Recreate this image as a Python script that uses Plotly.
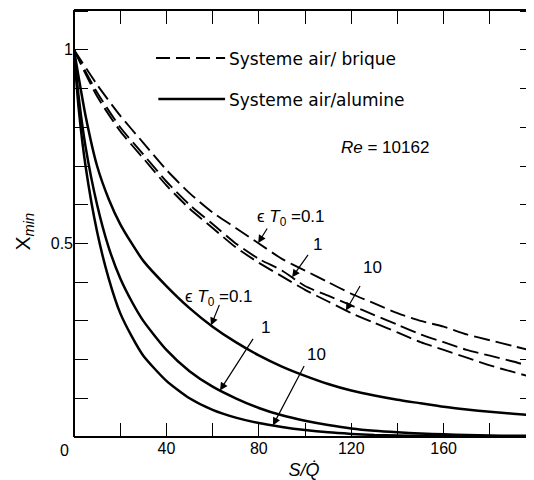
import numpy as np
import plotly.graph_objects as go

# ---------------- data ----------------
x_brique = [0, 10, 20, 30, 40, 50, 60, 70, 80, 90, 100, 110, 120, 130, 140, 150, 160, 170, 180, 190, 200]
brique_01 = [1.0, 0.91, 0.83, 0.76, 0.69, 0.63, 0.58, 0.54, 0.50, 0.46, 0.43, 0.40, 0.37, 0.345, 0.32, 0.30, 0.285, 0.265, 0.25, 0.235, 0.22]
brique_1 = [1.0, 0.89, 0.80, 0.73, 0.66, 0.60, 0.55, 0.50, 0.46, 0.43, 0.39, 0.365, 0.34, 0.315, 0.29, 0.265, 0.245, 0.225, 0.21, 0.195, 0.178]
brique_10 = [1.0, 0.88, 0.79, 0.72, 0.65, 0.59, 0.54, 0.49, 0.45, 0.415, 0.38, 0.35, 0.32, 0.295, 0.27, 0.245, 0.225, 0.205, 0.185, 0.168, 0.152]

x_alumine = [0, 2, 5, 10, 15, 20, 25, 30, 40, 50, 60, 70, 80, 90, 100, 110, 120, 130, 140, 150, 160, 170, 180, 190, 200]
alumine_01 = [1.0, 0.93, 0.83, 0.70, 0.615, 0.55, 0.50, 0.455, 0.39, 0.333, 0.285, 0.245, 0.211, 0.182, 0.158, 0.137, 0.12, 0.107, 0.096, 0.087, 0.078, 0.071, 0.065, 0.06, 0.055]
alumine_1 = [1.0, 0.88, 0.75, 0.60, 0.49, 0.41, 0.35, 0.30, 0.225, 0.17, 0.13, 0.10, 0.075, 0.056, 0.042, 0.031, 0.022, 0.016, 0.012, 0.009, 0.007, 0.005, 0.004, 0.003, 0.003]
alumine_10 = [1.0, 0.85, 0.70, 0.53, 0.41, 0.32, 0.26, 0.21, 0.145, 0.10, 0.07, 0.05, 0.036, 0.026, 0.018, 0.012, 0.008, 0.005, 0.004, 0.003, 0.002, 0.002, 0.001, 0.001, 0.001]

x_tick_vals = [0, 20, 40, 60, 80, 100, 120, 140, 160, 180, 200]
x_tick_text = ["", "", "40", "", "80", "", "120", "", "160", "", ""]
y_tick_vals = [0, 0.1, 0.2, 0.3, 0.4, 0.5, 0.6, 0.7, 0.8, 0.9, 1.0, 1.1]
y_tick_text = ["", "", "", "", "", "0.5", "", "", "", "", "1", ""]

legend_labels = ["Systeme air/ brique", "Systeme air/alumine"]
re_label = "<i>Re</i> = 10162"
param_labels = ["ϵ <i>T</i><sub>0</sub> =0.1", "1", "10"]
y_title = "X<sub><i>min</i></sub>"

FONT = "Liberation Sans, Arial, sans-serif"
LFONT = "DejaVu Sans, sans-serif"
BLACK = "#000000"

fig = go.Figure()
DASH = "16px,6px"
for ys in (brique_01, brique_1, brique_10):
    fig.add_trace(go.Scatter(x=x_brique, y=ys, mode="lines",
                             line=dict(color=BLACK, width=1.9, dash=DASH, shape="spline", smoothing=0.6),
                             showlegend=False, hoverinfo="skip"))
for ys in (alumine_01, alumine_1, alumine_10):
    fig.add_trace(go.Scatter(x=x_alumine, y=ys, mode="lines",
                             line=dict(color=BLACK, width=2.5, shape="spline", smoothing=0.6),
                             showlegend=False, hoverinfo="skip"))

XMAX = 199.1
YMAX = 1.103

# frame (left, top, bottom)
for (x0, y0, x1, y1) in [(0, 0, 0, 1), (0, 1, 1, 1), (0, 0, 1, 0)]:
    fig.add_shape(type="line", xref="paper", yref="paper", x0=x0, y0=y0, x1=x1, y1=y1,
                  line=dict(color=BLACK, width=2))

# legend samples
fig.add_shape(type="line", xref="x", yref="y", x0=35.5, x1=65.4, y0=0.979, y1=0.979,
              line=dict(color=BLACK, width=2.2, dash="14px,6px"))
fig.add_shape(type="line", xref="x", yref="y", x0=36.5, x1=65.4, y0=0.873, y1=0.873,
              line=dict(color=BLACK, width=2.6))

ann = []
tf = dict(family=FONT, size=17, color=BLACK)
lf = dict(family=LFONT, size=17, color=BLACK)
ann.append(dict(x=66.2, y=0.976, xref="x", yref="y", text=legend_labels[0], showarrow=False,
                xanchor="left", yanchor="middle", font=lf))
ann.append(dict(x=66.2, y=0.871, xref="x", yref="y", text=legend_labels[1], showarrow=False,
                xanchor="left", yanchor="middle", font=lf))
ann.append(dict(x=134.6, y=0.747, xref="x", yref="y", text=re_label, showarrow=False,
                xanchor="center", yanchor="middle", font=tf))

# parameter labels
ann.append(dict(x=93.9, y=0.566, text=param_labels[0], showarrow=False, font=tf, xref="x", yref="y"))
ann.append(dict(x=105.2, y=0.496, text=param_labels[1], showarrow=False, font=tf, xref="x", yref="y"))
ann.append(dict(x=129.4, y=0.437, text=param_labels[2], showarrow=False, font=tf, xref="x", yref="y"))
ann.append(dict(x=62.8, y=0.359, text=param_labels[0], showarrow=False, font=tf, xref="x", yref="y"))
ann.append(dict(x=82.7, y=0.282, text=param_labels[1], showarrow=False, font=tf, xref="x", yref="y"))
ann.append(dict(x=104.8, y=0.214, text=param_labels[2], showarrow=False, font=tf, xref="x", yref="y"))

# arrows, tips anchored on the curves
arrows = [
    (x_brique, brique_01, 79.7, 10, -16),
    (x_brique, brique_1, 94.4, 17, -24),
    (x_brique, brique_10, 117.7, 15, -26),
    (x_alumine, alumine_01, 59.3, 9, -22),
    (x_alumine, alumine_1, 63.2, 34, -53),
    (x_alumine, alumine_10, 86.1, 32, -61),
]
for xs, ys, xt, axp, ayp in arrows:
    yt = float(np.interp(xt, xs, ys))
    ann.append(dict(x=xt, y=yt, xref="x", yref="y", text="", showarrow=True,
                    ax=axp, ay=ayp, arrowhead=2, arrowsize=1.3, arrowwidth=1.2,
                    arrowcolor=BLACK, standoff=0))

# corner zero label
ann.append(dict(x=0, y=0, xref="paper", yref="paper", text="0", showarrow=False,
                xanchor="center", yanchor="top", xshift=-10, yshift=-3,
                font=dict(family=FONT, size=16, color=BLACK)))

# y axis title (rotated)
ann.append(dict(x=0, y=0.5, xref="paper", yref="paper", text=y_title, showarrow=False,
                textangle=-90, xanchor="center", yanchor="middle", xshift=-51, yshift=-8,
                font=dict(family=FONT, size=21, color=BLACK)))

fig.update_layout(
    width=526, height=472,
    margin=dict(l=66, r=0, t=2, b=43),
    plot_bgcolor="white", paper_bgcolor="white",
    annotations=ann,
    font=dict(family=FONT, color=BLACK, size=16),
    xaxis=dict(range=[0, XMAX], tickvals=x_tick_vals, ticktext=x_tick_text,
               ticks="inside", ticklen=14, tickwidth=1.3, tickcolor=BLACK,
               showline=False, mirror="ticks", showgrid=False, zeroline=False,
               tickfont=dict(family=FONT, size=16, color=BLACK),
               title=dict(text="<i>S/Q̇</i>", font=dict(family=FONT, size=18, color=BLACK), standoff=9)),
    yaxis=dict(range=[0, YMAX], tickvals=y_tick_vals, ticktext=y_tick_text,
               ticks="inside", ticklen=14, tickwidth=1.3, tickcolor=BLACK,
               showline=False, mirror="ticks", showgrid=False, zeroline=False,
               tickfont=dict(family=FONT, size=16, color=BLACK)),
)

fig.write_html("out.html")
